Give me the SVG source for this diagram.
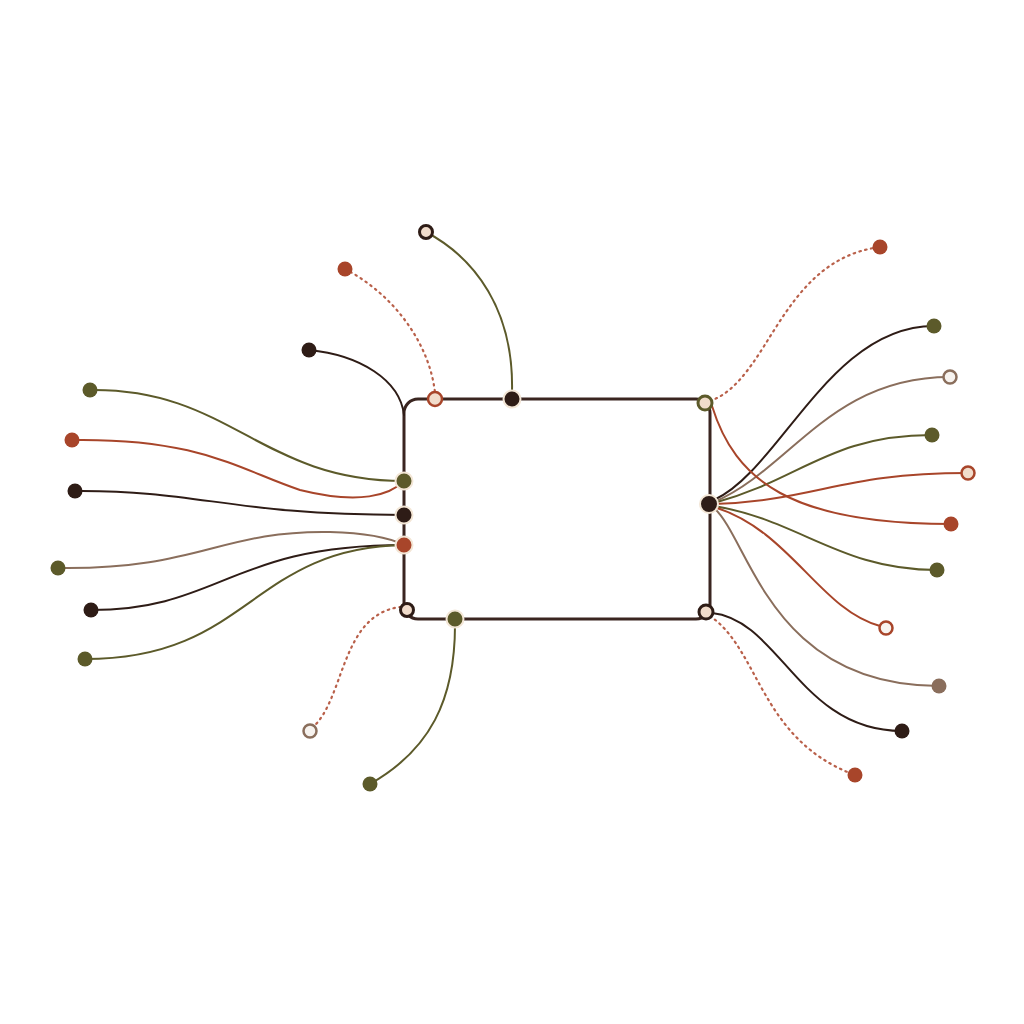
<svg xmlns="http://www.w3.org/2000/svg" width="1024" height="1024" viewBox="0 0 1024 1024">
<style>
.l{fill:none;stroke-width:2;stroke-linecap:round}
.d{stroke-dasharray:1.5 4.5;stroke:#b9604a;stroke-width:2.2}
.k{stroke:#2e1c16}.o{stroke:#5c5a2a}.r{stroke:#a8452a}.t{stroke:#8a6e5c}
.n{stroke:#f3e6d6;stroke-width:2}
.h{stroke-width:2.5}
.fk{fill:#2e1c16}.fo{fill:#5c5a2a}.fr{fill:#a8452a}.ft{fill:#8a6e5c}.fp{fill:#f1dccb}.fw{fill:#f7f3ef}
</style>
<rect width="1024" height="1024" fill="#ffffff"/>
<g id="connectors">
<rect x="404" y="399" width="306" height="220" rx="14" fill="none" stroke="#3a2520" stroke-width="3"/>
<path class="l o" d="M426,232 C475,258 514,310 512,392"/>
<path class="l d" d="M345,269 C395,295 430,345 435,393"/>
<path class="l k" d="M309,350 C360,355 400,380 404,415"/>
<path class="l o" d="M90,390 C230,388 260,481 404,481"/>
<path class="l r" d="M72,440 C200,438 240,470 300,490 C360,505 390,495 404,481"/>
<path class="l k" d="M75,491 C200,490 230,515 404,515"/>
<path class="l t" d="M58,568 C200,570 220,530 330,532 C370,533 390,538 404,545"/>
<path class="l k" d="M91,610 C220,610 230,545 404,545"/>
<path class="l o" d="M85,659 C250,659 250,548 404,545"/>
<path class="l d" d="M312,728 C345,700 340,615 400,607"/>
<path class="l o" d="M370,784 C430,750 455,700 455,625"/>
<path class="l d" d="M710,401 C770,380 780,260 880,247"/>
<path class="l k" d="M714,500 C780,470 830,326 934,326"/>
<path class="l t" d="M714,502 C790,470 830,377 950,377"/>
<path class="l o" d="M714,503 C800,480 830,435 932,435"/>
<path class="l r" d="M714,504 C820,500 840,473 968,473"/>
<path class="l r" d="M712,406 C735,480 790,524 951,524"/>
<path class="l o" d="M714,506 C800,520 840,570 937,570"/>
<path class="l r" d="M714,507 C790,530 820,610 880,626"/>
<path class="l t" d="M714,508 C750,540 770,686 939,686"/>
<path class="l k" d="M712,613 C780,620 800,731 902,731"/>
<path class="l d" d="M710,616 C760,650 760,740 855,775"/>
</g>
<g id="hub-nodes">
<g id="n-top1"><circle cx="435" cy="399" r="7" class="fp r h"/></g>
<g id="n-top2"><circle cx="512" cy="399" r="8.5" class="fk n"/></g>
<g id="n-left1"><circle cx="404" cy="481" r="8.5" class="fo n"/></g>
<g id="n-left2"><circle cx="404" cy="515" r="8.5" class="fk n"/></g>
<g id="n-left3"><circle cx="404" cy="545" r="8.5" class="fr n"/></g>
<g id="n-bl"><circle cx="407" cy="610" r="6.5" class="fp k" stroke-width="3"/></g>
<g id="n-bottom"><circle cx="455" cy="619" r="8.5" class="fo n"/></g>
<g id="n-tr"><circle cx="705" cy="403" r="7" class="fp o" stroke-width="3"/></g>
<g id="n-right"><circle cx="709" cy="504" r="9" class="fk n"/></g>
<g id="n-br"><circle cx="706" cy="612" r="7" class="fp k" stroke-width="3"/></g>
</g>
<g id="leaf-nodes">
<g id="e1"><circle cx="426" cy="232" r="6.5" class="fp k" stroke-width="3"/></g>
<g id="e2"><circle cx="345" cy="269" r="7.5" class="fr"/></g>
<g id="e3"><circle cx="309" cy="350" r="7.5" class="fk"/></g>
<g id="e4"><circle cx="90" cy="390" r="7.5" class="fo"/></g>
<g id="e5"><circle cx="72" cy="440" r="7.5" class="fr"/></g>
<g id="e6"><circle cx="75" cy="491" r="7.5" class="fk"/></g>
<g id="e7"><circle cx="58" cy="568" r="7.5" class="fo"/></g>
<g id="e8"><circle cx="91" cy="610" r="7.5" class="fk"/></g>
<g id="e9"><circle cx="85" cy="659" r="7.5" class="fo"/></g>
<g id="e10"><circle cx="310" cy="731" r="6.5" class="fw t h"/></g>
<g id="e11"><circle cx="370" cy="784" r="7.5" class="fo"/></g>
<g id="e12"><circle cx="880" cy="247" r="7.5" class="fr"/></g>
<g id="e13"><circle cx="934" cy="326" r="7.5" class="fo"/></g>
<g id="e14"><circle cx="950" cy="377" r="6.5" class="fw t h"/></g>
<g id="e15"><circle cx="932" cy="435" r="7.5" class="fo"/></g>
<g id="e16"><circle cx="968" cy="473" r="6.5" class="fp r h"/></g>
<g id="e17"><circle cx="951" cy="524" r="7.5" class="fr"/></g>
<g id="e18"><circle cx="937" cy="570" r="7.5" class="fo"/></g>
<g id="e19"><circle cx="886" cy="628" r="6.5" class="fw r h"/></g>
<g id="e20"><circle cx="939" cy="686" r="7.5" class="ft"/></g>
<g id="e21"><circle cx="902" cy="731" r="7.5" class="fk"/></g>
<g id="e22"><circle cx="855" cy="775" r="7.5" class="fr"/></g>
</g>
</svg>
